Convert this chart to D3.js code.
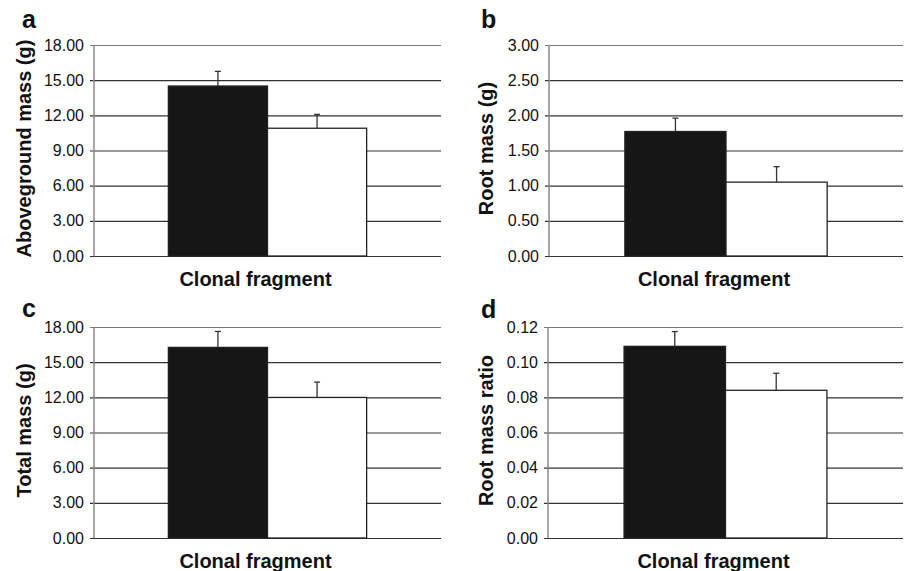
<!DOCTYPE html>
<html>
<head>
<meta charset="utf-8">
<script src="https://cdn.jsdelivr.net/npm/d3@7"></script>
<style>
  body { margin: 0; background: #fff; }
  svg { display: block; font-family: "Liberation Sans", Arial, Helvetica, sans-serif; }
</style>
</head>
<body>
<svg width="904" height="571"></svg>
<script>
// two treatments per panel (black and white bars)
const groups = ["black", "white"];

const aboveMean = [14.5, 10.9];
const aboveErr = [1.25, 1.18];
const aboveTicks = [0, 3, 6, 9, 12, 15, 18];

const rootMean = [1.77, 1.05];
const rootErr = [0.19, 0.22];
const rootTicks = [0, 0.5, 1, 1.5, 2, 2.5, 3];

const totalMean = [16.26, 11.99];
const totalErr = [1.36, 1.31];
const totalTicks = [0, 3, 6, 9, 12, 15, 18];

const ratioMean = [0.109, 0.084];
const ratioErr = [0.0084, 0.0097];
const ratioTicks = [0, 0.02, 0.04, 0.06, 0.08, 0.10, 0.12];

const xLabel = "Clonal fragment";

let svg = d3.select("svg");

// panel layout
const panels = [
    {letter: "a", title: "Aboveground mass (g)", mean: aboveMean, err: aboveErr, ticks: aboveTicks,
        left: 94, right: 441, top: 45, bottom: 256, titleX: 24, letterX: 22, letterY: 28},
    {letter: "b", title: "Root mass (g)", mean: rootMean, err: rootErr, ticks: rootTicks,
        left: 549, right: 903, top: 45, bottom: 256, titleX: 486, letterX: 481, letterY: 28},
    {letter: "c", title: "Total mass (g)", mean: totalMean, err: totalErr, ticks: totalTicks,
        left: 94, right: 441, top: 327, bottom: 538, titleX: 24, letterX: 22, letterY: 317},
    {letter: "d", title: "Root mass ratio", mean: ratioMean, err: ratioErr, ticks: ratioTicks,
        left: 548, right: 903, top: 327, bottom: 538, titleX: 486, letterX: 481, letterY: 318}
];

panels.forEach(drawPanel);

function drawPanel(p) {
    const w = p.right - p.left;
    const h = p.bottom - p.top;
    const maxTick = p.ticks[p.ticks.length - 1];

    let x = d3.scaleBand()
        .domain(groups)
        .range([0, w])
        .paddingInner(0)
        .paddingOuter(0.75);

    let y = d3.scaleLinear()
        .domain([0, maxTick])
        .range([h, 0]);

    let g = svg.append("g")
        .attr("transform", "translate(" + p.left + "," + p.top + ")");

    // gridlines + tick labels
    let axis = g.append("g")
        .call(d3.axisLeft(y)
            .tickValues(p.ticks)
            .tickFormat(d3.format(".2f"))
            .tickSize(-w)
            .tickPadding(10));
    axis.select(".domain").remove();
    axis.selectAll(".tick line")
        .attr("x1", -4)
        .attr("stroke", "#333")
        .attr("stroke-width", 1.2);
    axis.selectAll(".tick text")
        .attr("fill", "#111")
        .style("font-size", "16px");
    axis.selectAll(".tick")
        .filter(function (d) { return d === maxTick; })
        .select("line")
        .attr("stroke", "#777");

    // y axis line
    g.append("line")
        .attr("x1", 0).attr("x2", 0)
        .attr("y1", 0).attr("y2", h)
        .attr("stroke", "#888")
        .attr("stroke-width", 1.5);

    // bars
    g.selectAll("rect.bar")
        .data(groups)
        .join("rect")
        .attr("class", "bar")
        .attr("x", function (d) { return x(d); })
        .attr("width", x.bandwidth())
        .attr("y", function (d, i) { return y(p.mean[i]); })
        .attr("height", function (d, i) { return h - y(p.mean[i]); })
        .attr("fill", function (d) { return d === "black" ? "#161616" : "#fff"; })
        .attr("stroke", "#222")
        .attr("stroke-width", 1.3);

    // error bars (upper only)
    let eb = g.selectAll("g.err")
        .data(groups)
        .join("g")
        .attr("class", "err")
        .attr("stroke", "#333")
        .attr("stroke-width", 1.3);
    eb.append("line")
        .attr("x1", function (d) { return x(d) + x.bandwidth() / 2; })
        .attr("x2", function (d) { return x(d) + x.bandwidth() / 2; })
        .attr("y1", function (d, i) { return y(p.mean[i]); })
        .attr("y2", function (d, i) { return y(p.mean[i] + p.err[i]); });
    eb.append("line")
        .attr("x1", function (d) { return x(d) + x.bandwidth() / 2 - 3; })
        .attr("x2", function (d) { return x(d) + x.bandwidth() / 2 + 3; })
        .attr("y1", function (d, i) { return y(p.mean[i] + p.err[i]); })
        .attr("y2", function (d, i) { return y(p.mean[i] + p.err[i]); });

    // x label
    svg.append("text")
        .attr("x", p.left + w / 2 - 12)
        .attr("y", p.bottom + 30)
        .attr("text-anchor", "middle")
        .attr("font-weight", "bold")
        .attr("font-size", 20)
        .attr("fill", "#111")
        .text(xLabel);

    // y title
    svg.append("text")
        .attr("transform", "translate(" + p.titleX + "," + (p.top + h / 2 - 2) + ") rotate(-90)")
        .attr("dy", "0.36em")
        .attr("text-anchor", "middle")
        .attr("font-weight", "bold")
        .attr("font-size", 20)
        .attr("fill", "#111")
        .text(p.title);

    // panel letter
    svg.append("text")
        .attr("x", p.letterX)
        .attr("y", p.letterY)
        .attr("font-weight", "bold")
        .attr("font-size", 25)
        .attr("fill", "#111")
        .text(p.letter);
}
</script>
</body>
</html>
